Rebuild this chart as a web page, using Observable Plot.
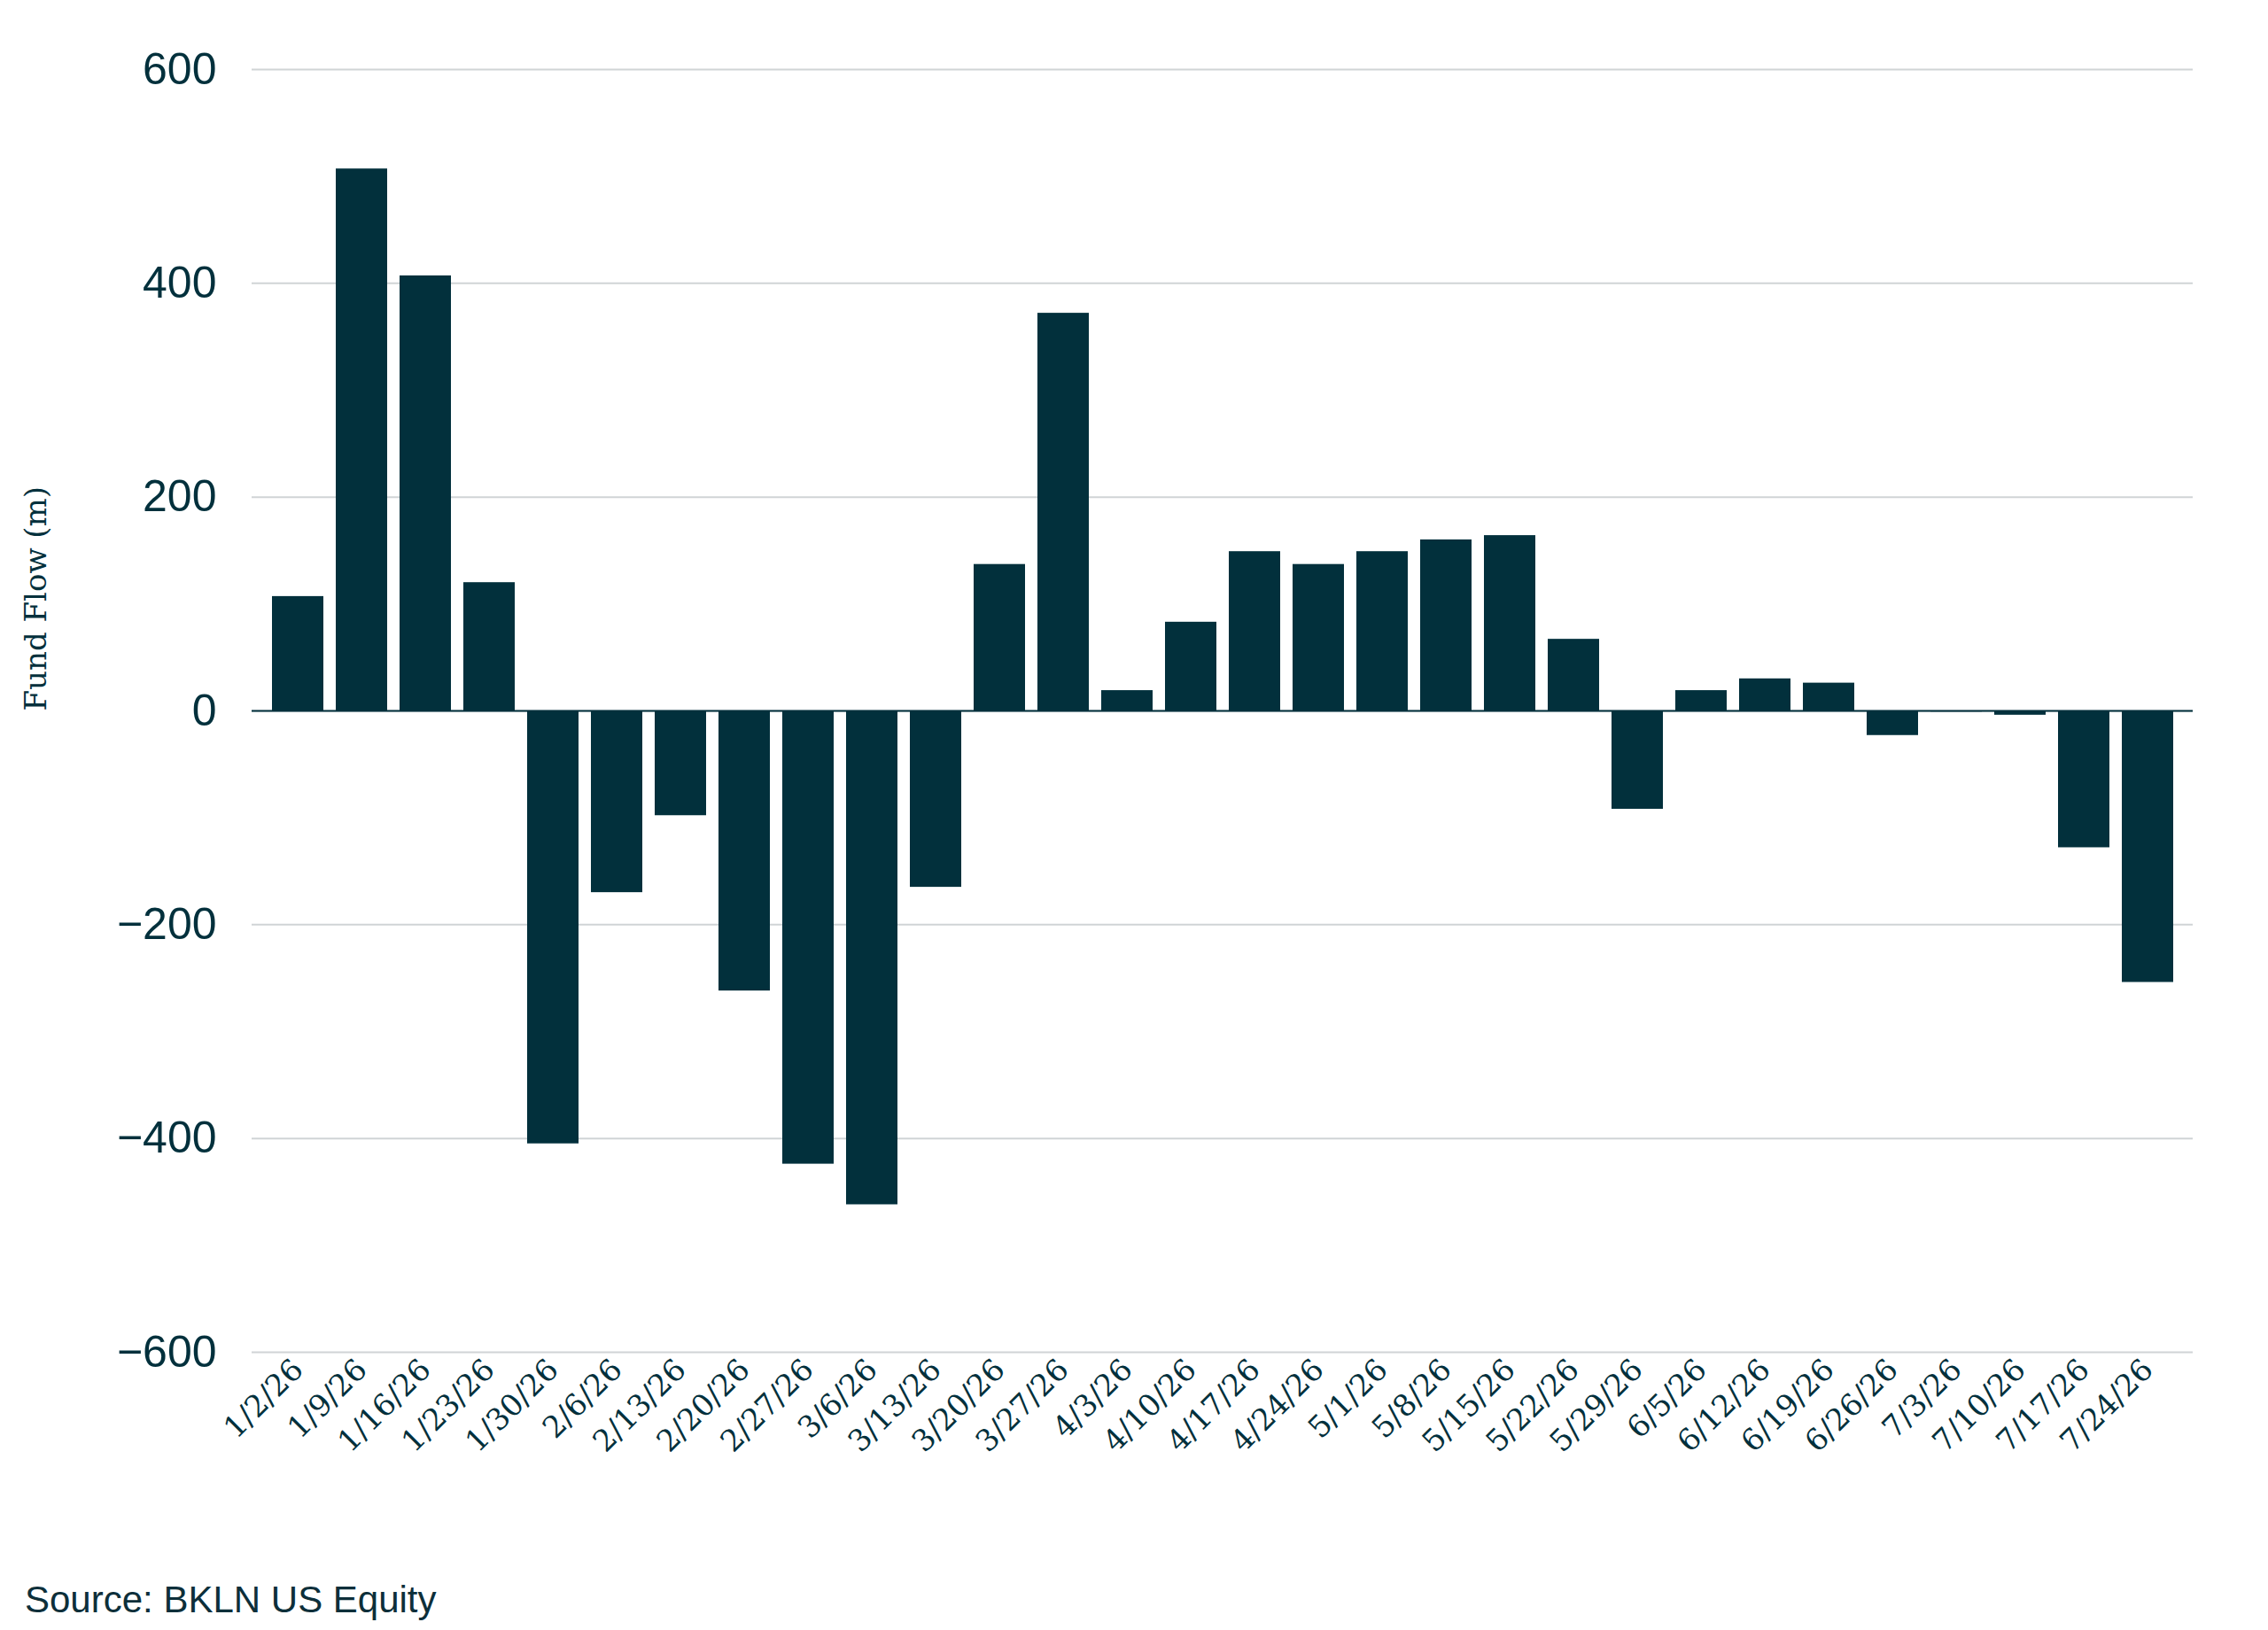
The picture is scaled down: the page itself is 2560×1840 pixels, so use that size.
<!DOCTYPE html>
<html><head><meta charset="utf-8">
<script src="https://cdn.jsdelivr.net/npm/d3@7"></script>
<script src="https://cdn.jsdelivr.net/npm/@observablehq/plot@0.6"></script>
<style>
body{margin:0;background:#fff;width:2560px;}
#src{font-family:"Liberation Sans",Arial,sans-serif;font-size:42px;color:#0d2f3a;margin:62px 0 0 28px;}
</style></head><body>
<div id="chart"></div>
<div id="src">Source: BKLN US Equity</div>
<script>
const dates = ["1/2/26","1/9/26","1/16/26","1/23/26","1/30/26","2/6/26","2/13/26","2/20/26","2/27/26","3/6/26","3/13/26","3/20/26","3/27/26","4/3/26","4/10/26","4/17/26","4/24/26","5/1/26","5/8/26","5/15/26","5/22/26","5/29/26","6/5/26","6/12/26","6/19/26","6/26/26","7/3/26","7/10/26","7/17/26","7/24/26"];
const flows = [107,507,407,120,-405,-170,-98,-262,-424,-462,-165,137,372,19,83,149,137,149,160,164,67,-92,19,30,26,-23,-1,-4,-128,-254];
const yTicks = [-600,-400,-200,0,200,400,600];
const data = dates.map((d,i)=>({date:d, flow:flows[i]}));
const color = "#02303c";
const chart = Plot.plot({
  width:2560, height:1720,
  marginTop:78, marginBottom:194, marginLeft:284, marginRight:85,
  style:{fontFamily:"Liberation Sans, Arial, sans-serif", color:color, background:"#fff"},
  x:{domain:dates, padding:0.2, label:null},
  y:{domain:[-600,600], ticks:yTicks, label:null},
  marks:[
    Plot.gridY(yTicks,{stroke:"#d0d4d6", strokeOpacity:1, strokeWidth:2}),
    Plot.barY(data,{x:"date", y:"flow", fill:color}),
    Plot.ruleY([0],{stroke:color, strokeWidth:2}),
    Plot.axisY(yTicks,{tickSize:0, tickPadding:40, fontSize:50, fill:color}),
    Plot.axisX({tickSize:0, tickRotate:-45, textAnchor:"end", fontSize:34, fill:color, fontFamily:"DejaVu Serif, serif", tickPadding:14}),
    Plot.text(["Fund Flow (m)"],{frameAnchor:"left", dx:-243, rotate:-90, fontSize:34, fontFamily:"DejaVu Serif, serif", fill:color})
  ]
});
document.getElementById("chart").append(chart);
</script>
</body></html>
